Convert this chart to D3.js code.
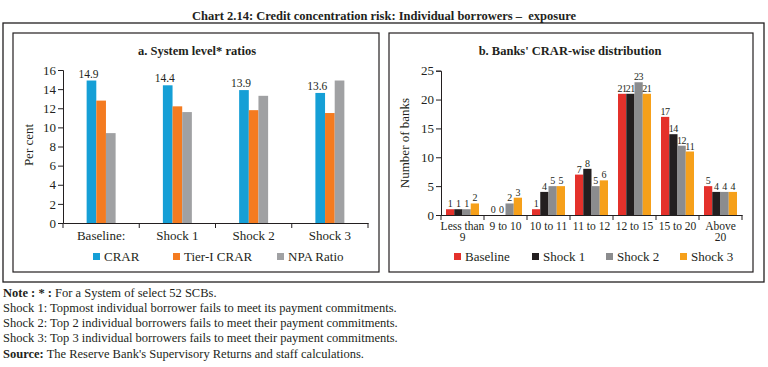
<!DOCTYPE html>
<html><head><meta charset="utf-8">
<script src="https://cdn.jsdelivr.net/npm/d3@7/dist/d3.min.js"></script>
<style>
body{margin:0;background:#fff;}
svg{display:block;font-family:"Liberation Serif","DejaVu Serif",serif;}
</style></head>
<body><svg id="c" width="768" height="367"></svg>
<script>
// ---- data ----
const leftCategories = ["Baseline:", "Shock 1", "Shock 2", "Shock 3"];
const leftSeries = ["CRAR", "Tier-I CRAR", "NPA Ratio"];
const crar = [14.9, 14.4, 13.9, 13.6];
const tier1 = [12.8, 12.2, 11.8, 11.5];
const npa = [9.4, 11.6, 13.3, 14.9];
const leftTicks = [0, 2, 4, 6, 8, 10, 12, 14, 16];

const rightCategories = [["Less than", "9"], ["9 to 10"], ["10 to 11"], ["11 to 12"], ["12 to 15"], ["15 to 20"], ["Above", "20"]];
const rightSeries = ["Baseline", "Shock 1", "Shock 2", "Shock 3"];
const baseline = [1, 0, 1, 7, 21, 17, 5];
const shock1 = [1, 0, 4, 8, 21, 14, 4];
const shock2 = [1, 2, 5, 5, 23, 12, 4];
const shock3 = [2, 3, 5, 6, 21, 11, 4];
const rightTicks = [0, 5, 10, 15, 20, 25];

const notes = [
  ["Note : * : ", "For a System of select 52 SCBs."],
  ["", "Shock 1: Topmost individual borrower fails to meet its payment commitments."],
  ["", "Shock 2: Top 2 individual borrowers fails to meet their payment commitments."],
  ["", "Shock 3: Top 3 individual borrowers fails to meet their payment commitments."],
  ["Source:", " The Reserve Bank's Supervisory Returns and staff calculations."]
];

const svg = d3.select("#c");

// title
svg.append("text").attr("x", 384).attr("y", 20).attr("text-anchor", "middle")
  .attr("font-size", 12.5).attr("font-weight", "bold").attr("fill", "#231f20")
  .text("Chart 2.14: Credit concentration risk: Individual borrowers \u2013 \u00a0exposure");

// frames
svg.append("rect").attr("x", 3).attr("y", 23).attr("width", 761).attr("height", 259)
  .attr("fill", "none").attr("stroke", "#231f20").attr("stroke-width", 1.3);
svg.append("rect").attr("x", 13).attr("y", 33).attr("width", 366).attr("height", 239)
  .attr("fill", "none").attr("stroke", "#231f20").attr("stroke-width", 1.2);
svg.append("rect").attr("x", 389).attr("y", 33).attr("width", 364).attr("height", 239)
  .attr("fill", "none").attr("stroke", "#231f20").attr("stroke-width", 1.2);

// ---------- left panel ----------
const L = svg.append("g");
L.append("text").attr("x", 197).attr("y", 55).attr("text-anchor", "middle")
  .attr("font-size", 12.5).attr("font-weight", "bold").attr("fill", "#231f20").text("a. System level* ratios");

const lx0 = d3.scaleBand().domain(leftCategories).range([63, 368]).paddingInner(0.62).paddingOuter(0.31);
const lx1 = d3.scaleBand().domain(leftSeries).range([0, lx0.bandwidth()]);
const ly = d3.scaleLinear().domain([0, 16]).range([223, 70]);
const lColors = ["#159fd6", "#f47b20", "#a0a1a3"];
const lData = [crar, tier1, npa];

leftSeries.forEach((s, si) => {
  L.selectAll(null).data(lData[si]).enter().append("rect")
    .attr("x", (d, i) => lx0(leftCategories[i]) + lx1(s))
    .attr("y", d => ly(d))
    .attr("width", lx1.bandwidth())
    .attr("height", d => ly(0) - ly(d))
    .attr("fill", lColors[si]);
});
L.selectAll(null).data(crar).enter().append("text")
  .attr("x", (d, i) => lx0(leftCategories[i]) + lx1("CRAR") + lx1.bandwidth() / 2 - 3)
  .attr("y", d => ly(d) - 3).attr("text-anchor", "middle")
  .attr("font-size", 11.5).attr("fill", "#231f20").text(d => d.toFixed(1));

const lyAxis = L.append("g").attr("transform", "translate(63,0)")
  .call(d3.axisLeft(ly).tickValues(leftTicks).tickSize(5).tickPadding(2).tickFormat(d3.format("d")));
lyAxis.selectAll("text").attr("font-size", 13).attr("fill", "#231f20").attr("font-family", "Liberation Serif");
lyAxis.selectAll("line,path").attr("stroke", "#231f20");

const lxAxis = L.append("g").attr("transform", "translate(0,223)")
  .call(d3.axisBottom(lx0).tickSize(0).tickPadding(8));
lxAxis.selectAll("text").attr("font-size", 13).attr("fill", "#231f20").attr("font-family", "Liberation Serif");
lxAxis.select("path").attr("stroke", "#231f20");
const lBounds = leftCategories.map(c => lx0(c) - lx0.step() * lx0.paddingInner() / 2).concat([368]);
L.selectAll(null).data(lBounds).enter().append("line")
  .attr("x1", d => d).attr("x2", d => d).attr("y1", 223).attr("y2", 228).attr("stroke", "#231f20");

L.append("text").attr("transform", "translate(33,145) rotate(-90)").attr("text-anchor", "middle")
  .attr("font-size", 13).attr("fill", "#231f20").text("Per cent");

const lLegX = [93, 173, 277];
leftSeries.forEach((s, i) => {
  L.append("rect").attr("x", lLegX[i]).attr("y", 253).attr("width", 7).attr("height", 7).attr("fill", lColors[i]);
  L.append("text").attr("x", lLegX[i] + 11).attr("y", 261).attr("font-size", 13).attr("fill", "#231f20").text(s);
});

// ---------- right panel ----------
const R = svg.append("g");
R.append("text").attr("x", 570).attr("y", 55).attr("text-anchor", "middle")
  .attr("font-size", 12.5).attr("font-weight", "bold").attr("fill", "#231f20").text("b. Banks' CRAR-wise distribution");

const rKeys = rightCategories.map(c => c.join(" "));
const rx0 = d3.scaleBand().domain(rKeys).range([441, 742]).paddingInner(0.233).paddingOuter(0.1165);
const rx1 = d3.scaleBand().domain(rightSeries).range([0, rx0.bandwidth()]);
const ry = d3.scaleLinear().domain([0, 25]).range([215, 70.7]);
const rColors = ["#e4312b", "#231f20", "#8b8c8e", "#f6a01a"];
const rData = [baseline, shock1, shock2, shock3];

rightSeries.forEach((s, si) => {
  R.selectAll(null).data(rData[si]).enter().append("rect")
    .attr("x", (d, i) => rx0(rKeys[i]) + rx1(s))
    .attr("y", d => ry(d))
    .attr("width", rx1.bandwidth())
    .attr("height", d => ry(0) - ry(d))
    .attr("fill", rColors[si]);
  R.selectAll(null).data(rData[si]).enter().append("text")
    .attr("x", (d, i) => rx0(rKeys[i]) + rx1(s) + rx1.bandwidth() / 2)
    .attr("y", d => ry(d) - 2).attr("text-anchor", "middle")
    .attr("font-size", 10).attr("letter-spacing", -0.3).attr("fill", "#231f20").text(d => d);
});

const ryAxis = R.append("g").attr("transform", "translate(441,0)")
  .call(d3.axisLeft(ry).tickValues(rightTicks).tickSize(5).tickPadding(2));
ryAxis.selectAll("text").attr("font-size", 13).attr("fill", "#231f20").attr("font-family", "Liberation Serif");
ryAxis.selectAll("line,path").attr("stroke", "#231f20");

const rxAxis = R.append("g").attr("transform", "translate(0,215)")
  .call(d3.axisBottom(rx0).tickSize(0).tickFormat(""));
rxAxis.select("path").attr("stroke", "#231f20");
const rBounds = rKeys.map(c => rx0(c) - rx0.step() * rx0.paddingInner() / 2).concat([742]);
R.selectAll(null).data(rBounds).enter().append("line")
  .attr("x1", d => d).attr("x2", d => d).attr("y1", 215).attr("y2", 220).attr("stroke", "#231f20");
rightCategories.forEach((c, i) => {
  const cx = rx0(rKeys[i]) + rx0.bandwidth() / 2;
  const t = R.append("text").attr("x", cx).attr("y", 230)
    .attr("text-anchor", "middle").attr("font-size", 11.5).attr("fill", "#231f20");
  c.forEach((line, j) => t.append("tspan").attr("x", cx).attr("dy", j ? 11 : 0).text(line));
});

R.append("text").attr("transform", "translate(409,143) rotate(-90)").attr("text-anchor", "middle")
  .attr("font-size", 13).attr("fill", "#231f20").text("Number of banks");

const rLegX = [454, 532, 606, 680];
rightSeries.forEach((s, i) => {
  R.append("rect").attr("x", rLegX[i]).attr("y", 253).attr("width", 7).attr("height", 7).attr("fill", rColors[i]);
  R.append("text").attr("x", rLegX[i] + 11).attr("y", 261).attr("font-size", 13).attr("fill", "#231f20").text(s);
});

// ---------- notes ----------
const noteY = [297, 312, 327, 342, 358];
notes.forEach((n, i) => {
  const t = svg.append("text").attr("x", 3).attr("y", noteY[i]).attr("font-size", 12.5).attr("fill", "#231f20");
  if (n[0]) t.append("tspan").attr("font-weight", "bold").text(n[0]);
  t.append("tspan").text(n[1]);
});
</script></body></html>
